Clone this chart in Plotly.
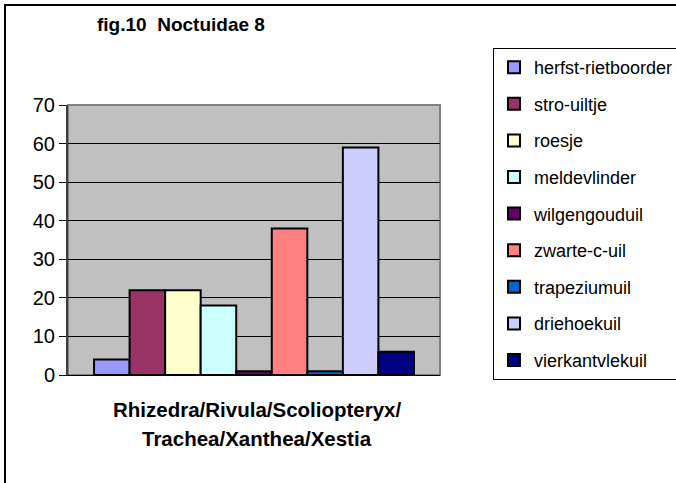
import plotly.graph_objects as go

species = ["herfst-rietboorder", "stro-uiltje", "roesje", "meldevlinder", "wilgengouduil",
           "zwarte-c-uil", "trapeziumuil", "driehoekuil", "vierkantvlekuil"]
counts = [4, 22, 22, 18, 1, 38, 1, 59, 6]
colors = ["#9999FF", "#993366", "#FFFFCC", "#CCFFFF", "#660066",
          "#FF8080", "#0066CC", "#CCCCFF", "#000080"]
category_lines = ["Rhizedra/Rivula/Scoliopteryx/", "Trachea/Xanthea/Xestia"]
y_ticks = [0, 10, 20, 30, 40, 50, 60, 70]

W, H = 676, 483
FONT = "Arial, Liberation Sans, sans-serif"

fig = go.Figure()
for name, val, col in zip(species, counts, colors):
    fig.add_trace(go.Bar(
        x=["".join(category_lines)], y=[val], name=name, legendgroup=name,
        marker=dict(color=col, line=dict(color="black", width=2)),
    ))

fig.update_layout(
    width=W, height=H,
    margin=dict(l=68, r=236, t=105, b=108),
    paper_bgcolor="white",
    plot_bgcolor="#C0C0C0",
    barmode="group",
    bargap=0.14,
    bargroupgap=0,
    font=dict(family=FONT, color="black"),
    title=dict(
        text="<b>fig.10\u00a0 Noctuidae 8</b>",
        x=97 / W, xanchor="left", xref="container",
        y=1 - 24 / H, yanchor="middle", yref="container",
        font=dict(size=19, family=FONT, color="black"),
    ),
    xaxis=dict(
        showticklabels=False, ticks="", showgrid=False,
        showline=True, linecolor="black", linewidth=1,
    ),
    yaxis=dict(
        range=[0, 70], tickvals=y_ticks,
        showgrid=True, gridcolor="black", gridwidth=1,
        showline=True, linecolor="#404040", linewidth=2,
        ticks="outside", ticklen=7, tickcolor="black",
        tickfont=dict(size=20, color="black"),
        zeroline=False,
    ),
    legend=dict(
        x=493 / W, y=1 - 48 / H, xref="container", yref="container",
        xanchor="left", yanchor="top",
        bordercolor="black", borderwidth=1, bgcolor="white",
        font=dict(size=18, color="black"),
        tracegroupgap=10.2,
        maxheight=420,
        itemclick=False,
    ),
    showlegend=True,
)

# x-axis title, two lines
for i, line in enumerate(category_lines):
    fig.add_annotation(
        text="<b>" + line + "</b>", xref="paper", yref="paper",
        x=0.5, y=-(34 + 29 * i) / 270, xshift=3,
        showarrow=False, xanchor="center", yanchor="middle",
        font=dict(size=20.5, family=FONT, color="black"),
    )

# grey frame on top/right of the plot area
fig.add_shape(type="rect", xref="paper", yref="paper", x0=0, y0=0, x1=1, y1=1,
              line=dict(color="#808080", width=2), layer="below")
# outer chart border (left and top visible)
fig.add_shape(type="rect", xref="paper", yref="paper",
              x0=-63 / 372, y0=1 + 100 / 270, x1=1.8, y1=-0.6,
              line=dict(color="black", width=2))

fig.write_html("out.html", config={"displayModeBar": False},
               post_script="document.body.style.margin='0';")
